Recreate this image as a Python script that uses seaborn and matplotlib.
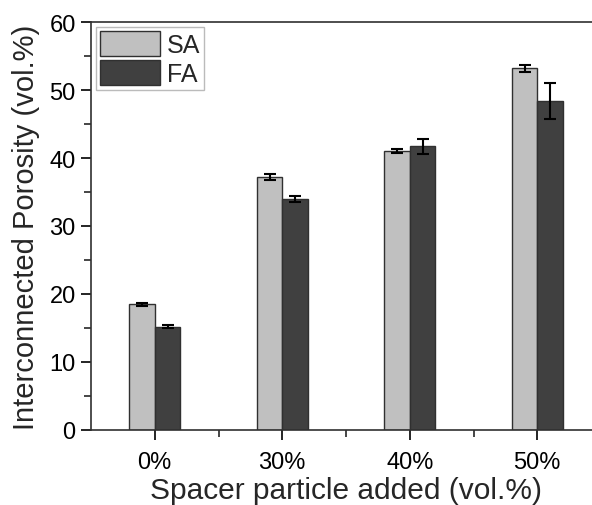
import matplotlib
matplotlib.use("Agg")
import matplotlib.pyplot as plt
import seaborn as sns
import pandas as pd
from matplotlib.ticker import MultipleLocator

categories = ["0%", "30%", "40%", "50%"]
sa_values = [18.5, 37.2, 41.0, 53.2]
fa_values = [15.2, 34.0, 41.7, 48.4]
sa_err = [0.2, 0.5, 0.3, 0.5]
fa_err = [0.2, 0.45, 1.1, 2.6]
series = ["SA", "FA"]

df = pd.DataFrame({
    "cat": categories * 2,
    "val": sa_values + fa_values,
    "err": sa_err + fa_err,
    "series": ["SA"] * 4 + ["FA"] * 4,
})

sns.set_style("white")
plt.rcParams["font.family"] = ["Liberation Sans", "DejaVu Sans"]

fig = plt.figure(figsize=(5.92, 5.06), dpi=100)
W, H = 592, 506
left, right, top, bottom = 91, 601, 23, 431
ax = fig.add_axes([left / W, 1 - bottom / H, (right - left) / W, (bottom - top) / H])

sns.barplot(data=df, x="cat", y="val", hue="series", hue_order=series,
            palette={"SA": "#c0c0c0", "FA": "#404040"}, width=0.4,
            errorbar=None, ax=ax, edgecolor="#303030", linewidth=1.0,
            saturation=1)

# error bars
for container, s in zip(ax.containers, series):
    sub = df[df.series == s]
    xs = [p.get_x() + p.get_width() / 2 for p in container.patches]
    ax.errorbar(xs, sub["val"].values, yerr=sub["err"].values, fmt="none",
                ecolor="black", elinewidth=1.5, capsize=4, capthick=1.5, zorder=5)

ax.set_xlim(-0.5, 3.5)
ax.set_ylim(0, 60)
ax.yaxis.set_major_locator(MultipleLocator(10))
ax.yaxis.set_minor_locator(MultipleLocator(5))
ax.set_xticks([0, 1, 2, 3])
ax.set_xticks([0.5, 1.5, 2.5], minor=True)
ax.set_xticklabels(categories)
ax.tick_params(axis="both", which="major", direction="out", length=7, width=1.2,
               labelsize=17, left=True, bottom=True, colors="black")
ax.tick_params(axis="both", which="minor", direction="out", length=5, width=1.2,
               left=True, bottom=True)
ax.tick_params(axis="x", pad=8)
ax.tick_params(axis="y", pad=4)
for sp in ax.spines.values():
    sp.set_visible(True)
    sp.set_color("#303030")
    sp.set_linewidth(1.2)

ax.set_xlabel("Spacer particle added (vol.%)", fontsize=21.5, labelpad=2)
ax.set_ylabel("Interconnected Porosity (vol.%)", fontsize=21, labelpad=7)

leg = ax.legend(loc="upper left", fontsize=18, frameon=True, fancybox=False,
                handlelength=2.4, handleheight=1.2, handletextpad=0.3,
                borderpad=0.15, labelspacing=0.1, borderaxespad=0.2)
leg.get_frame().set_edgecolor("#aaaaaa")
leg.get_frame().set_linewidth(1.0)

fig.savefig("out.png", dpi=100)
